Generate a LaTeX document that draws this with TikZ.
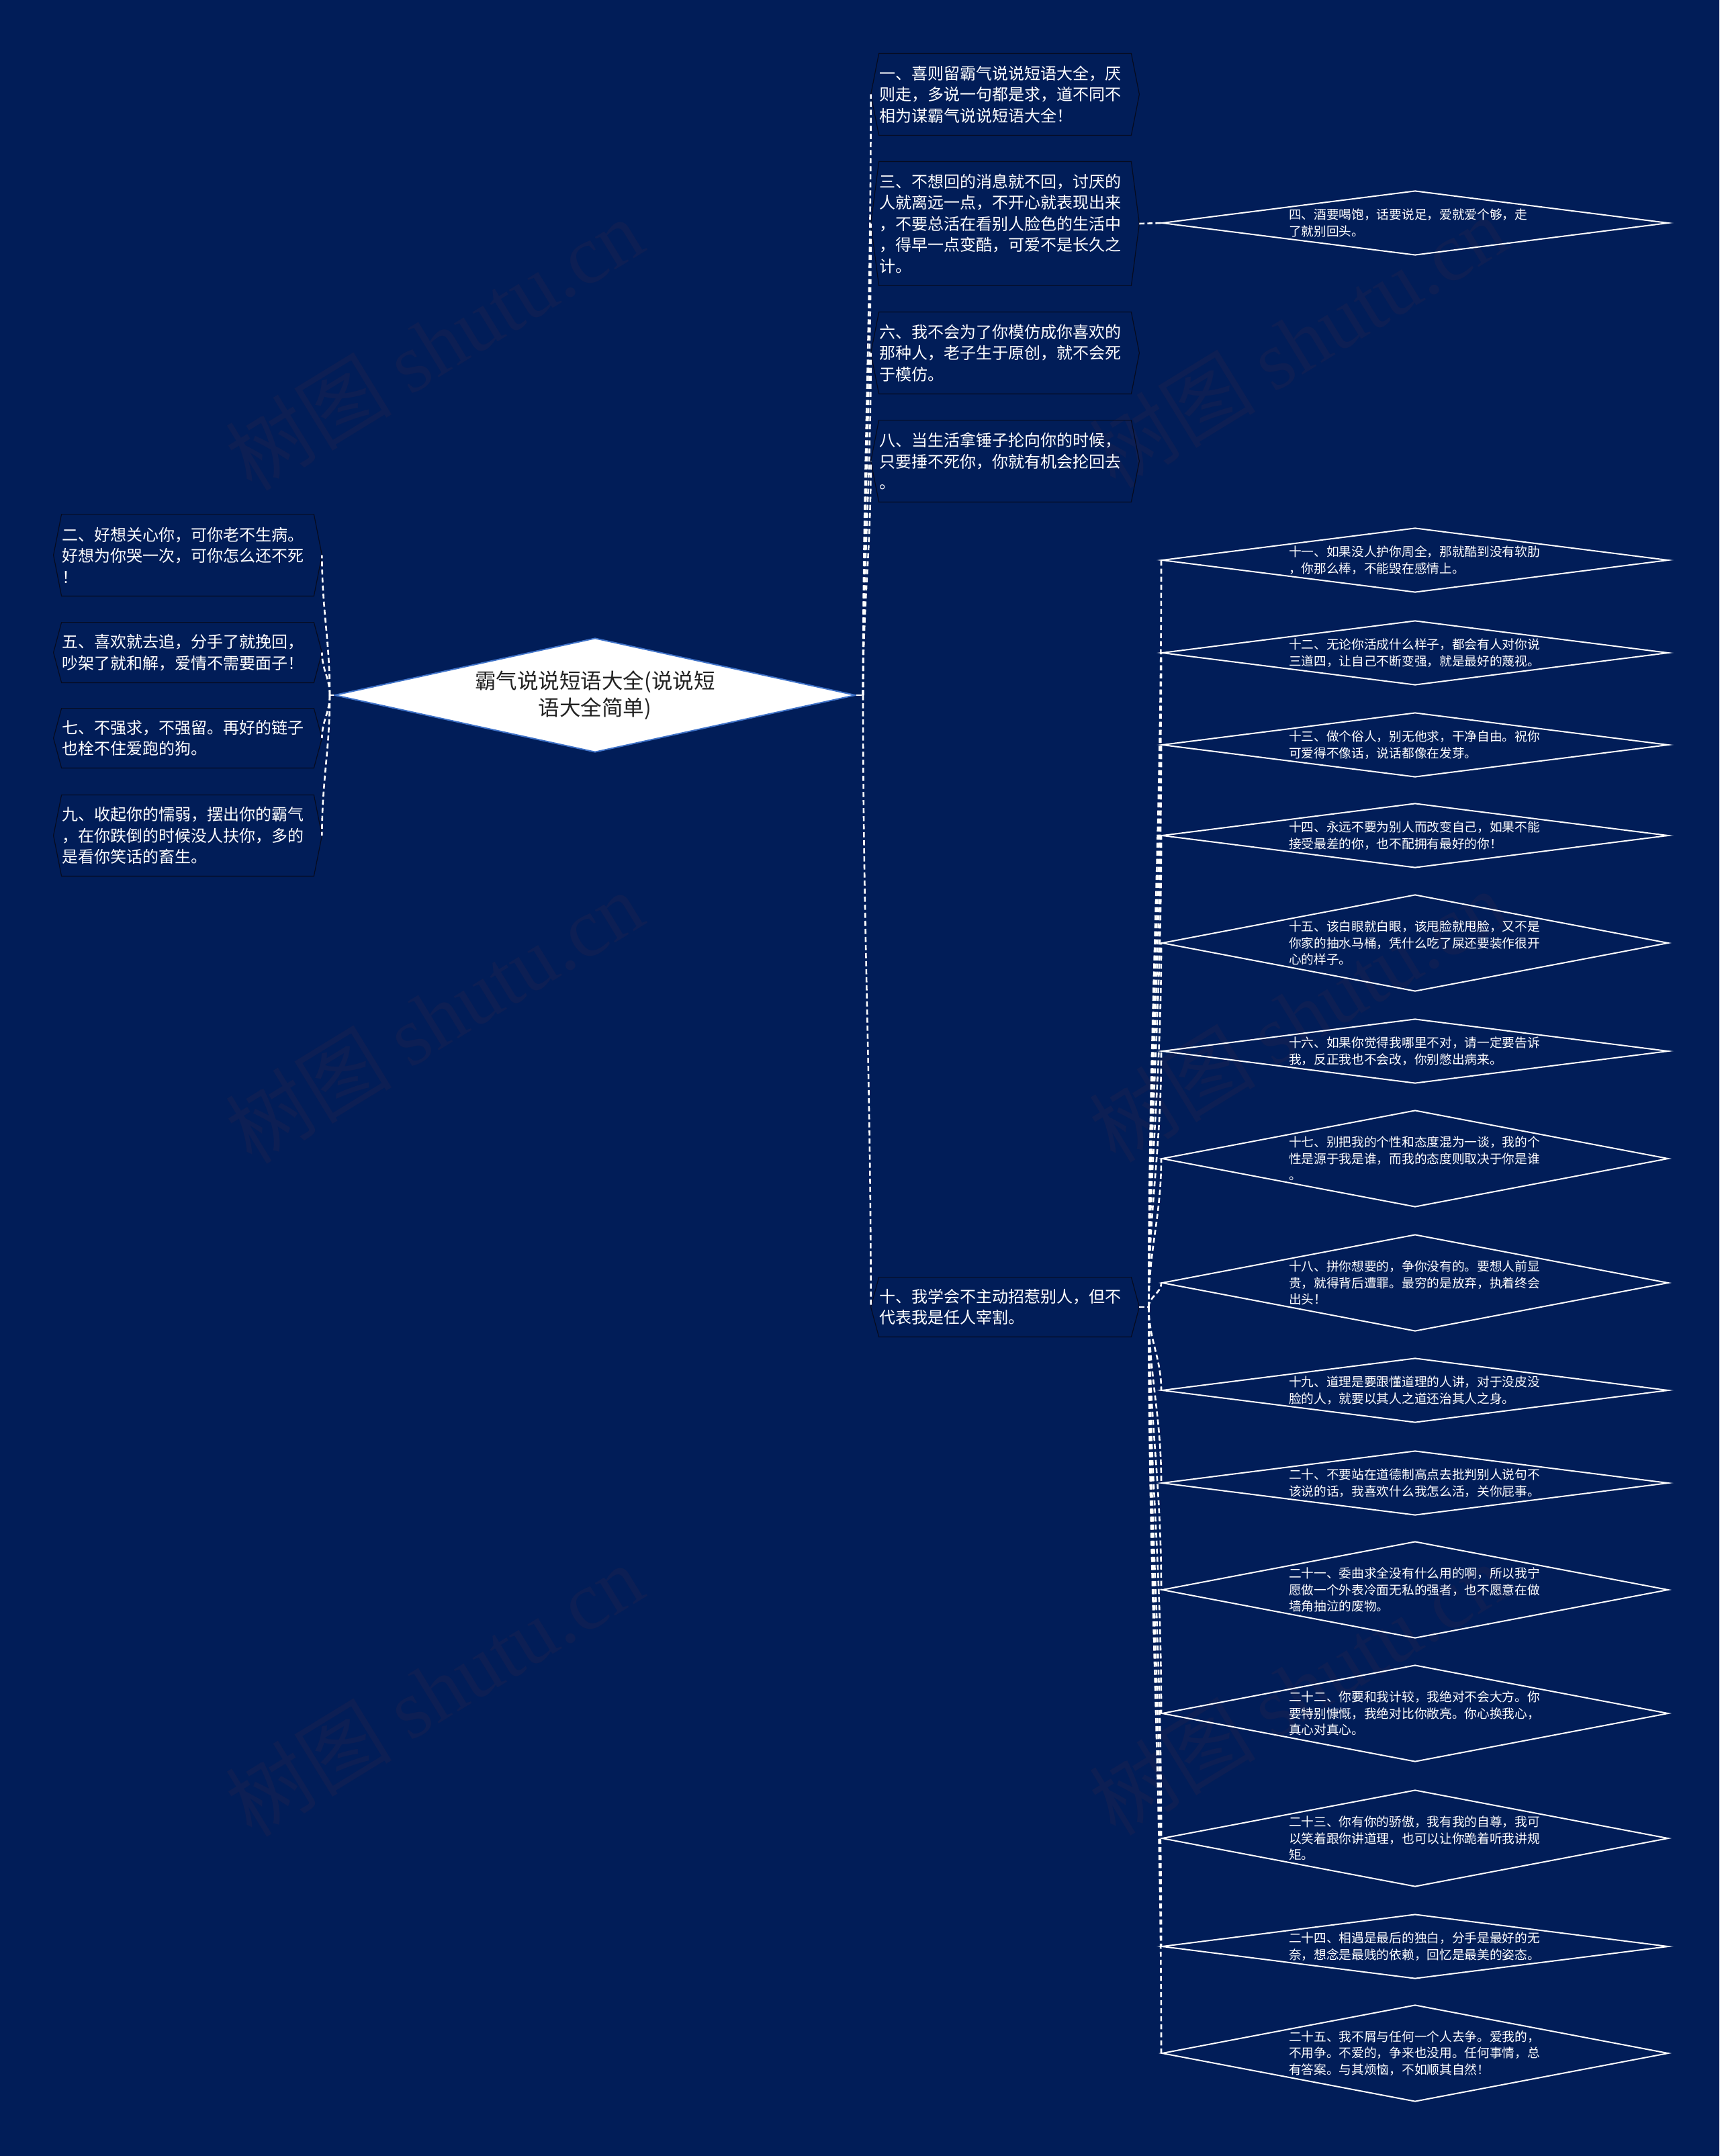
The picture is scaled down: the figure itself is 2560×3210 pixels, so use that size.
\documentclass[tikz,border=0pt]{standalone}
\usepackage{fontspec}
\setmainfont{Noto Sans CJK SC}
\newfontfamily\wmlatin{Liberation Serif}
\usetikzlibrary{shapes.geometric,calc}
\definecolor{bg}{HTML}{011D58}
\definecolor{wm}{HTML}{0D1F54}
\definecolor{rootline}{HTML}{3F72C8}
\definecolor{roottext}{HTML}{222222}
\definecolor{boxline}{HTML}{060B20}
\begin{document}
\begin{tikzpicture}[x=0.5pt,y=0.5pt,
  conn/.style={draw=white,line width=1.3pt,dash pattern=on 3.8pt off 2.2pt},
  boxtext/.style={text=white,font=\fontsize{12pt}{15.75pt}\selectfont,align=left,text width=187.5pt,inner xsep=0pt,inner ysep=0pt},
  hexline/.style={draw=boxline,line width=0.6pt},
  dia/.style={diamond,draw=white,line width=1pt,minimum width=377pt,inner sep=0pt},
  diatext/.style={text=white,font=\fontsize{9.35pt}{12.25pt}\selectfont,align=left,text width=188pt,inner sep=0pt},
  wmark/.style={text=wm,rotate=31.5,font=\fontsize{62pt}{62pt}\selectfont,inner sep=0pt}
]
\fill[bg] (0,0) rectangle (2560,-3210);
\useasboundingbox (0,0) rectangle (2560,-3210);

% watermarks
\node[wmark] (wm1) at (646,-512) {树图 {\wmlatin shutu.cn}};
\node[wmark] (wm2) at (1932,-508) {树图 {\wmlatin shutu.cn}};
\node[wmark] (wm3) at (646,-1514) {树图 {\wmlatin shutu.cn}};
\node[wmark] (wm4) at (1932,-1512) {树图 {\wmlatin shutu.cn}};
\node[wmark] (wm5) at (646,-2516) {树图 {\wmlatin shutu.cn}};
\node[wmark] (wm6) at (1932,-2514) {树图 {\wmlatin shutu.cn}};

% root
\node[diamond,fill=white,draw=rootline,line width=1pt,minimum width=388pt,minimum height=85pt,
  inner sep=0pt,shape aspect=4.5,align=center,text=roottext,
  font=\fontsize{15.75pt}{20pt}\selectfont] (root) at (886,-1035) {霸气说说短语大全(说说短\\语大全简单)};

% left boxes
\node[boxtext,minimum height=60.5pt] (b2) at (279.5,-826.5) {二、好想关心你，可你老不生病。\\好想为你哭一次，可你怎么还不死\\！};
\node[boxtext,minimum height=44.5pt] (b5) at (279.5,-971.5) {五、喜欢就去追，分手了就挽回，\\吵架了就和解，爱情不需要面子！};
\node[boxtext,minimum height=44pt] (b7) at (279.5,-1099) {七、不强求，不强留。再好的链子\\也栓不住爱跑的狗。};
\node[boxtext,minimum height=60pt] (b9) at (279.5,-1244) {九、收起你的懦弱，摆出你的霸气\\，在你跌倒的时候没人扶你，多的\\是看你笑话的畜生。};

% right boxes
\node[boxtext,minimum height=60.5pt] (b1) at (1496.5,-140.5) {一、喜则留霸气说说短语大全，厌\\则走，多说一句都是求，道不同不\\相为谋霸气说说短语大全！};
\node[boxtext,minimum height=92pt] (b3) at (1496.5,-333) {三、不想回的消息就不回，讨厌的\\人就离远一点，不开心就表现出来\\，不要总活在看别人脸色的生活中\\，得早一点变酷，可爱不是长久之\\计。};
\node[boxtext,minimum height=60.5pt] (b6) at (1496.5,-525.5) {六、我不会为了你模仿成你喜欢的\\那种人，老子生于原创，就不会死\\于模仿。};
\node[boxtext,minimum height=60.5pt] (b8) at (1496.5,-686.5) {八、当生活拿锤子抡向你的时候，\\只要捶不死你，你就有机会抡回去\\。};
\node[boxtext,minimum height=44pt] (b10) at (1496.5,-1946) {十、我学会不主动招惹别人，但不\\代表我是任人宰割。};

\foreach \n in {b1,b2,b3,b5,b6,b7,b8,b9,b10}
  \draw[hexline] (\n.north west) -- (\n.north east) -- ($(\n.east)+(12,0)$) -- (\n.south east)
    -- (\n.south west) -- ($(\n.west)+(-12,0)$) -- cycle;
\foreach \n in {b2,b5,b7,b9,b3,b10}
  \coordinate (\n-e) at ($(\n.east)+(12,0)$);
\foreach \n in {b1,b3,b6,b8,b10}
  \coordinate (\n-w) at ($(\n.west)+(-12,0)$);

% diamonds
\node[dia,minimum height=48pt] (d4) at (2107,-332) {};
\node[diatext] (t4) at (d4.center) {四、酒要喝饱，话要说足，爱就爱个够，走\\了就别回头。};

\node[dia,minimum height=48pt] (d11) at (2107,-834) {};
\node[diatext] (t11) at (d11.center) {十一、如果没人护你周全，那就酷到没有软肋\\，你那么棒，不能毁在感情上。};
\node[dia,minimum height=48pt] (d12) at (2107,-972) {};
\node[diatext] (t12) at (d12.center) {十二、无论你活成什么样子，都会有人对你说\\三道四，让自己不断变强，就是最好的蔑视。};
\node[dia,minimum height=48pt] (d13) at (2107,-1109) {};
\node[diatext] (t13) at (d13.center) {十三、做个俗人，别无他求，干净自由。祝你\\可爱得不像话，说话都像在发芽。};
\node[dia,minimum height=48pt] (d14) at (2107,-1244) {};
\node[diatext] (t14) at (d14.center) {十四、永远不要为别人而改变自己，如果不能\\接受最差的你，也不配拥有最好的你！};
\node[dia,minimum height=72pt] (d15) at (2107,-1404) {};
\node[diatext] (t15) at (d15.center) {十五、该白眼就白眼，该甩脸就甩脸，又不是\\你家的抽水马桶，凭什么吃了屎还要装作很开\\心的样子。};
\node[dia,minimum height=48pt] (d16) at (2107,-1565) {};
\node[diatext] (t16) at (d16.center) {十六、如果你觉得我哪里不对，请一定要告诉\\我，反正我也不会改，你别憋出病来。};
\node[dia,minimum height=72pt] (d17) at (2107,-1725) {};
\node[diatext] (t17) at (d17.center) {十七、别把我的个性和态度混为一谈，我的个\\性是源于我是谁，而我的态度则取决于你是谁\\。};
\node[dia,minimum height=72pt] (d18) at (2107,-1910) {};
\node[diatext] (t18) at (d18.center) {十八、拼你想要的，争你没有的。要想人前显\\贵，就得背后遭罪。最穷的是放弃，执着终会\\出头！};
\node[dia,minimum height=48pt] (d19) at (2107,-2070) {};
\node[diatext] (t19) at (d19.center) {十九、道理是要跟懂道理的人讲，对于没皮没\\脸的人，就要以其人之道还治其人之身。};
\node[dia,minimum height=48pt] (d20) at (2107,-2208) {};
\node[diatext] (t20) at (d20.center) {二十、不要站在道德制高点去批判别人说句不\\该说的话，我喜欢什么我怎么活，关你屁事。};
\node[dia,minimum height=72pt] (d21) at (2107,-2367) {};
\node[diatext] (t21) at (d21.center) {二十一、委曲求全没有什么用的啊，所以我宁\\愿做一个外表冷面无私的强者，也不愿意在做\\墙角抽泣的废物。};
\node[dia,minimum height=72pt] (d22) at (2107,-2551) {};
\node[diatext] (t22) at (d22.center) {二十二、你要和我计较，我绝对不会大方。你\\要特别慷慨，我绝对比你敞亮。你心换我心，\\真心对真心。};
\node[dia,minimum height=72pt] (d23) at (2107,-2737) {};
\node[diatext] (t23) at (d23.center) {二十三、你有你的骄傲，我有我的自尊，我可\\以笑着跟你讲道理，也可以让你跪着听我讲规\\矩。};
\node[dia,minimum height=48pt] (d24) at (2107,-2898) {};
\node[diatext] (t24) at (d24.center) {二十四、相遇是最后的独白，分手是最好的无\\奈，想念是最贱的依赖，回忆是最美的姿态。};
\node[dia,minimum height=72pt] (d25) at (2107,-3057) {};
\node[diatext] (t25) at (d25.center) {二十五、我不屑与任何一个人去争。爱我的，\\不用争。不爱的，争来也没用。任何事情，总\\有答案。与其烦恼，不如顺其自然！};

% connectors
\coordinate (rl) at ($(root.west)+(-6,0)$);
\coordinate (rr) at ($(root.east)+(10,0)$);
\draw[conn] (root.west) -- (rl);
\draw[conn] (root.east) -- (rr);
\foreach \n in {b2,b5} \draw[conn] (rl) to[out=90,in=-90] (\n-e);
\foreach \n in {b7,b9} \draw[conn] (rl) to[out=-90,in=90] (\n-e);
\foreach \n in {b1,b3,b6,b8} \draw[conn] (rr) to[out=90,in=-90] (\n-w);
\draw[conn] (rr) to[out=-90,in=90] (b10-w);
\draw[conn] (b3-e) -- (d4.west);
\coordinate (te) at ($(b10-e)+(14,0)$);
\draw[conn] (b10-e) -- (te);
\foreach \n in {d11,d12,d13,d14,d15,d16,d17,d18} \draw[conn] (te) to[out=90,in=-90] (\n.west);
\foreach \n in {d19,d20,d21,d22,d23,d24,d25} \draw[conn] (te) to[out=-90,in=90] (\n.west);
\end{tikzpicture}
\end{document}
